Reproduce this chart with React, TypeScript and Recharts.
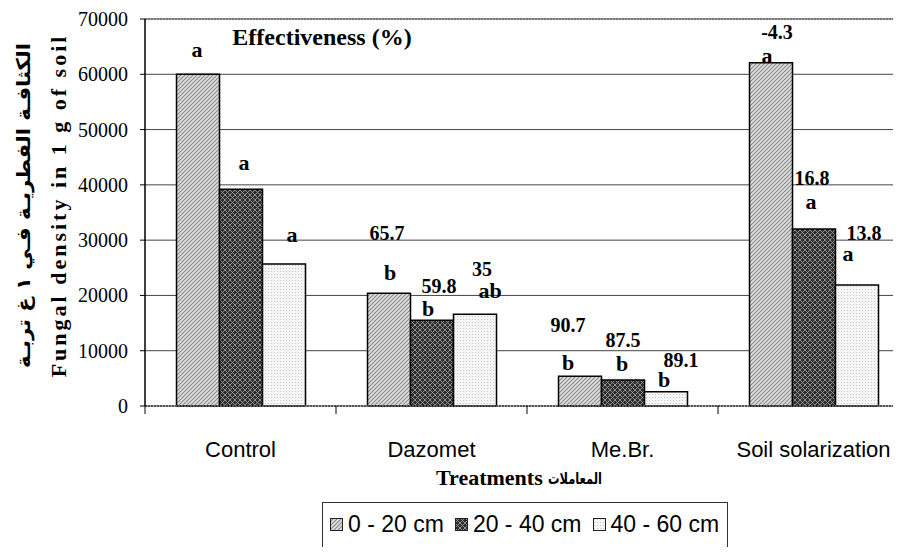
import React from 'react';
import { BarChart, Bar, XAxis, YAxis, CartesianGrid, LabelList, Legend, ReferenceLine, Label } from 'recharts';

// ---- data ----
const categories = ['Control', 'Dazomet', 'Me.Br.', 'Soil solarization'];
const depth0to20 = [60000, 20400, 5400, 62100];
const depth20to40 = [39200, 15500, 4700, 32000];
const depth40to60 = [25700, 16600, 2600, 21900];
const letters0to20 = ['a', 'b', 'b', 'a'];
const letters20to40 = ['a', 'b', 'b', 'a'];
const letters40to60 = ['a', 'ab', 'b', 'a'];
const eff0to20 = ['', '65.7', '90.7', '-4.3'];
const eff20to40 = ['', '59.8', '87.5', '16.8'];
const eff40to60 = ['', '35', '89.1', '13.8'];
const seriesNames = ['0 - 20 cm', '20 - 40 cm', '40 - 60 cm'];
const yTicks = [0, 10000, 20000, 30000, 40000, 50000, 60000, 70000];

// ---- label placement (style: offsets from each bar's top-centre) ----
const letterOffsets = [
  [[-1, -17], [1, -13], [-12, -6], [-4, 0]],
  [[3, -19], [-4, -4], [-1, -9], [-3, -20]],
  [[8, -22], [15, -16], [-2, -5], [-9, -24]],
];
const effOffsets = [
  [[0, 0], [-2, -53], [-12, -44], [6, -24]],
  [[0, 0], [7, -27], [0, -33], [-2, -44]],
  [[0, 0], [7, -38], [15, -25], [7, -45]],
];

const data = categories.map((c, i) => ({
  name: c,
  d1: depth0to20[i],
  d2: depth20to40[i],
  d3: depth40to60[i],
}));

const lettersBySeries = [letters0to20, letters20to40, letters40to60];
const effBySeries = [eff0to20, eff20to40, eff40to60];

const SERIF = '"Liberation Serif", "Times New Roman", serif';
const SANS = '"Liberation Sans", Arial, sans-serif';
const AR = '"DejaVu Sans", sans-serif';

const makeLabel = (s: number) => (props: any) => {
  const { x, y, width, index } = props;
  const cx = Number(x) + Number(width) / 2;
  const top = Number(y);
  const lo = letterOffsets[s][index];
  const eo = effOffsets[s][index];
  const eff = effBySeries[s][index];
  return (
    <g>
      <text x={cx + lo[0]} y={top + lo[1]} textAnchor="middle" style={{ fontFamily: SERIF, fontWeight: 'bold', fontSize: 22 }} fill="#000">
        {lettersBySeries[s][index]}
      </text>
      {eff ? (
        <text x={cx + eo[0]} y={top + eo[1]} textAnchor="middle" style={{ fontFamily: SERIF, fontWeight: 'bold', fontSize: 20 }} fill="#000">
          {eff}
        </text>
      ) : null}
    </g>
  );
};

const CategoryTick = (props: any) => {
  const { x, y, payload } = props;
  const half = payload && payload.offset ? payload.offset : 95.5;
  return (
    <g>
      <line x1={x - half} x2={x - half} y1={y - 8} y2={y} stroke="#000" strokeWidth={1} />
      <text x={x} y={y + 43} textAnchor="middle" style={{ fontFamily: SANS, fontSize: 22 }} fill="#000">
        {payload.value}
      </text>
    </g>
  );
};

const ValueTick = (props: any) => {
  const { x, y, payload } = props;
  return (
    <text x={x} y={y} dy={7} textAnchor="end" style={{ fontFamily: SERIF, fontSize: 20 }} fill="#000">
      {payload.value}
    </text>
  );
};

const YAxisTitles = (props: any) => {
  const vb = props.viewBox || { x: 0, y: 19, width: 145, height: 387 };
  const cy = vb.y + vb.height / 2 - 7;
  const ex = 66;
  const ax = 30;
  return (
    <g>
      <text
        x={ex}
        y={cy}
        transform={`rotate(-90, ${ex}, ${cy})`}
        textAnchor="middle"
        style={{ fontFamily: SERIF, fontWeight: 'bold', fontSize: 22, letterSpacing: 3 }}
        fill="#000"
      >
        Fungal density in 1 g of soil
      </text>
      <text
        x={ax}
        y={cy}
        transform={`rotate(-90, ${ax}, ${cy})`}
        textAnchor="middle"
        style={{ fontFamily: AR, fontWeight: 'bold', fontSize: 19 }}
        textLength={325}
        lengthAdjust="spacingAndGlyphs"
        fill="#000"
        direction="rtl"
      >
        الكثافـة الفطريـة فـي ١ غ تربـة
      </text>
      <text
        x={vb.x + vb.width + 177}
        y={vb.y + 26}
        textAnchor="middle"
        style={{ fontFamily: SERIF, fontWeight: 'bold', fontSize: 24 }}
        fill="#000"
      >
        Effectiveness (%)
      </text>
    </g>
  );
};

const XAxisTitle = () => {
  return (
    <g>
      <text x={436} y={485} textAnchor="start" style={{ fontFamily: SERIF, fontWeight: 'bold', fontSize: 22 }} fill="#000">
        Treatments
      </text>
      <text x={548} y={484} textAnchor="start" style={{ fontFamily: AR, fontWeight: 'bold', fontSize: 16 }} textLength={54} lengthAdjust="spacingAndGlyphs" fill="#000">
        المعاملات
      </text>
    </g>
  );
};

const patterns = ['url(#pat1)', 'url(#pat2)', 'url(#pat3)'];

const LegendBox = () => (
  <div
    style={{
      border: '1px solid #333',
      width: 406,
      height: 64,
      boxSizing: 'border-box',
      paddingLeft: 7,
      paddingTop: 7,
      background: '#fff',
      fontFamily: SANS,
      fontSize: 23,
      lineHeight: '28px',
      color: '#000',
    }}
  >
    <div style={{ display: 'flex', alignItems: 'center' }}>
      {seriesNames.map((n, i) => (
        <span key={n} style={{ display: 'flex', alignItems: 'center', marginRight: 11 }}>
          <svg width={13} height={13} style={{ marginRight: 5, display: 'block' }}>
            <rect x={0.5} y={0.5} width={12} height={12} fill={patterns[i]} stroke="#222" strokeWidth={1} />
          </svg>
          <span style={{ whiteSpace: 'nowrap' }}>{n}</span>
        </span>
      ))}
    </div>
  </div>
);

export default function App() {
  return (
    <div style={{ position: 'relative', width: 901, height: 555, margin: -8, overflow: 'hidden', background: '#fff' }}>
      <BarChart
        width={915}
        height={555}
        data={data}
        margin={{ top: 19, right: 6, left: 0, bottom: 89 }}
        barCategoryGap="16.5%"
        barGap={0}
      >
        <defs>
          <pattern id="pat1" patternUnits="userSpaceOnUse" width={4} height={4}>
            <rect width={4} height={4} fill="#e2e2e2" />
            <path d="M0,4 L4,0 M-1,1 L1,-1 M3,5 L5,3" stroke="#8a8a8a" strokeWidth={1.2} />
          </pattern>
          <pattern id="pat2" patternUnits="userSpaceOnUse" width={5} height={5}>
            <rect width={5} height={5} fill="#2c2c2c" />
            <path d="M0,0 L5,5 M5,0 L0,5" stroke="#9c9c9c" strokeWidth={0.9} />
          </pattern>
          <pattern id="pat3" patternUnits="userSpaceOnUse" width={3} height={3}>
            <rect width={3} height={3} fill="#f5f5f5" />
            <circle cx={1.5} cy={1.5} r={0.6} fill="#c4c4c4" />
          </pattern>
        </defs>
        <CartesianGrid vertical={false} stroke="#444" strokeWidth={1} />
        <XAxis
          dataKey="name"
          interval={0}
          tickLine={false}
          tickSize={8}
          tickMargin={0}
          tick={<CategoryTick />}
          axisLine={{ stroke: '#555', strokeWidth: 2, strokeDasharray: '2 1' }}
          height={60}
        >
          <Label content={<XAxisTitle />} />
        </XAxis>
        <YAxis
          type="number"
          domain={[0, 70000]}
          ticks={yTicks}
          interval={0}
          width={145}
          tickSize={5}
          tickMargin={12}
          tickLine={{ stroke: '#000' }}
          axisLine={{ stroke: '#000', strokeWidth: 1.5 }}
          tick={<ValueTick />}
        >
          <Label content={<YAxisTitles />} />
        </YAxis>
        <ReferenceLine y={70000} stroke="#777" strokeWidth={2} strokeDasharray="2 1" />
        <Legend
          layout="vertical"
          align="center"
          verticalAlign="middle"
          content={<LegendBox />}
          wrapperStyle={{ left: 322, top: 502, width: 406, height: 64 }}
        />
        <Bar dataKey="d1" name={seriesNames[0]} fill="url(#pat1)" stroke="#000" strokeWidth={1.5} isAnimationActive={false}>
          <LabelList dataKey="d1" content={makeLabel(0)} />
        </Bar>
        <Bar dataKey="d2" name={seriesNames[1]} fill="url(#pat2)" stroke="#000" strokeWidth={1.5} isAnimationActive={false}>
          <LabelList dataKey="d2" content={makeLabel(1)} />
        </Bar>
        <Bar dataKey="d3" name={seriesNames[2]} fill="url(#pat3)" stroke="#000" strokeWidth={1.5} isAnimationActive={false}>
          <LabelList dataKey="d3" content={makeLabel(2)} />
        </Bar>
      </BarChart>
    </div>
  );
}
